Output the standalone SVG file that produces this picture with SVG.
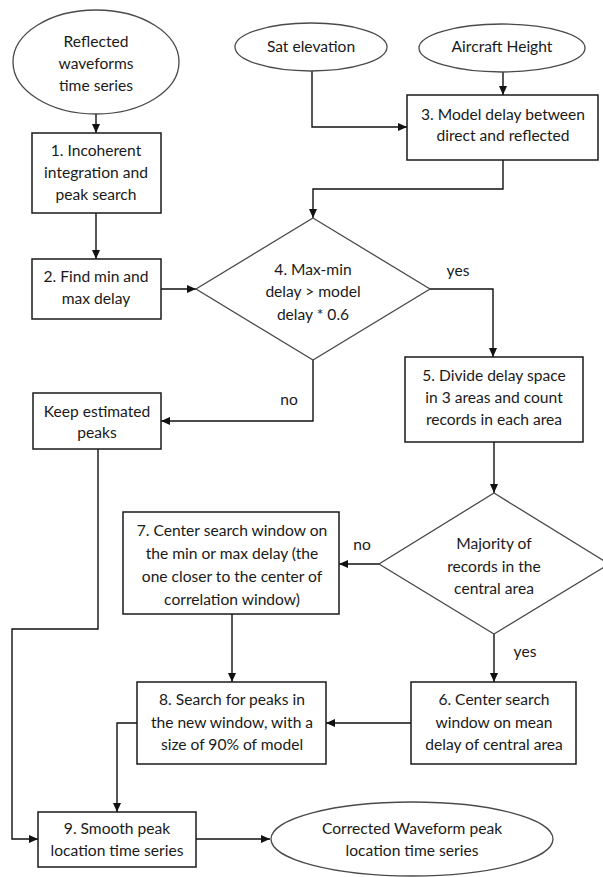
<svg xmlns="http://www.w3.org/2000/svg" width="603" height="877" viewBox="0 0 603 877">
<defs>
<style>
.bg{fill:#ffffff}
.box{fill:#ffffff;stroke:#1a1a1a;stroke-width:1.5}
.term{fill:#ffffff;stroke:#4a4a4a;stroke-width:1.3}
.dec{fill:#ffffff;stroke:#4a4a4a;stroke-width:1.3}
.conn{fill:none;stroke:#111111;stroke-width:1.4;marker-end:url(#arr)}
text{font-family:Lato,"Open Sans","Liberation Sans",sans-serif;font-size:15.6px;fill:#1a1a1a;text-anchor:middle}
</style>
<marker id="arr" markerUnits="userSpaceOnUse" markerWidth="10" markerHeight="10" refX="9" refY="5" orient="auto">
<path d="M0,1 L9,5 L0,9 Z" fill="#111111"/>
</marker>
</defs>
<rect class="bg" x="0" y="0" width="603" height="877"/>
<g id="connectors">
<path class="conn" d="M96,114 V133"/>
<path class="conn" d="M96,213 V259"/>
<path class="conn" d="M312,71 V127 H407"/>
<path class="conn" d="M503,72 V95"/>
<path class="conn" d="M503,160 V189 H313 V218"/>
<path class="conn" d="M161,289 H196"/>
<path class="conn" d="M430,289 H493 V357"/>
<path class="conn" d="M313,360 V421 H161"/>
<path class="conn" d="M494,442 V493"/>
<path class="conn" d="M379,564 H339"/>
<path class="conn" d="M494,634 V682"/>
<path class="conn" d="M232,614 V682"/>
<path class="conn" d="M411,723 H326"/>
<path class="conn" d="M137,723 H117 V812"/>
<path class="conn" d="M98,449 V629 H12 V839 H38"/>
<path class="conn" d="M196,839 H270"/>
<text x="458" y="276">yes</text>
<text x="289" y="405">no</text>
<text x="362" y="550">no</text>
<text x="525" y="657">yes</text>
</g>
<g id="reflected">
<ellipse class="term" cx="96" cy="62" rx="83" ry="52"/>
<text x="96" y="47">Reflected</text>
<text x="96" y="69">waveforms</text>
<text x="96" y="91">time series</text>
</g>
<g id="sat">
<ellipse class="term" cx="311" cy="47" rx="76" ry="24"/>
<text x="311" y="52">Sat elevation</text>
</g>
<g id="aircraft">
<ellipse class="term" cx="502" cy="48" rx="83" ry="24"/>
<text x="502" y="52">Aircraft Height</text>
</g>
<g id="step1">
<rect class="box" x="32" y="133" width="129" height="80"/>
<text x="96" y="156">1. Incoherent</text>
<text x="96" y="178">integration and</text>
<text x="96" y="200">peak search</text>
</g>
<g id="step3">
<rect class="box" x="407" y="95" width="191" height="65"/>
<text x="503" y="120">3. Model delay between</text>
<text x="503" y="141">direct and reflected</text>
</g>
<g id="step2">
<rect class="box" x="32" y="259" width="129" height="60"/>
<text x="96" y="282">2. Find min and</text>
<text x="96" y="304">max delay</text>
</g>
<g id="step4">
<polygon class="dec" points="313,218 430,289 313,360 196,289"/>
<text x="313" y="275">4. Max-min</text>
<text x="313" y="297">delay &gt; model</text>
<text x="313" y="320">delay * 0.6</text>
</g>
<g id="keep">
<rect class="box" x="33" y="393" width="128" height="56"/>
<text x="97" y="417">Keep estimated</text>
<text x="97" y="438">peaks</text>
</g>
<g id="step5">
<rect class="box" x="405" y="357" width="178" height="85"/>
<text x="494" y="381">5. Divide delay space</text>
<text x="494" y="403">in 3 areas and count</text>
<text x="494" y="425">records in each area</text>
</g>
<g id="majority">
<polygon class="dec" points="494,493 609,564 494,634 379,564"/>
<text x="494" y="549">Majority of</text>
<text x="494" y="572">records in the</text>
<text x="494" y="594">central area</text>
</g>
<g id="step7">
<rect class="box" x="123" y="512" width="216" height="102"/>
<text x="232" y="536">7. Center search window on</text>
<text x="232" y="559">the min or max delay (the</text>
<text x="232" y="582">one closer to the center of</text>
<text x="232" y="605">correlation window)</text>
</g>
<g id="step8">
<rect class="box" x="137" y="682" width="189" height="82"/>
<text x="232" y="705">8. Search for peaks in</text>
<text x="232" y="728">the new window, with a</text>
<text x="232" y="750">size of 90% of model</text>
</g>
<g id="step6">
<rect class="box" x="411" y="682" width="165" height="82"/>
<text x="494" y="705">6. Center search</text>
<text x="494" y="728">window on mean</text>
<text x="494" y="750">delay of central area</text>
</g>
<g id="step9">
<rect class="box" x="38" y="812" width="158" height="55"/>
<text x="117" y="834">9. Smooth peak</text>
<text x="117" y="856">location time series</text>
</g>
<g id="corrected">
<ellipse class="term" cx="412" cy="839" rx="141" ry="37"/>
<text x="412" y="834">Corrected Waveform peak</text>
<text x="412" y="856">location time series</text>
</g>
</svg>
